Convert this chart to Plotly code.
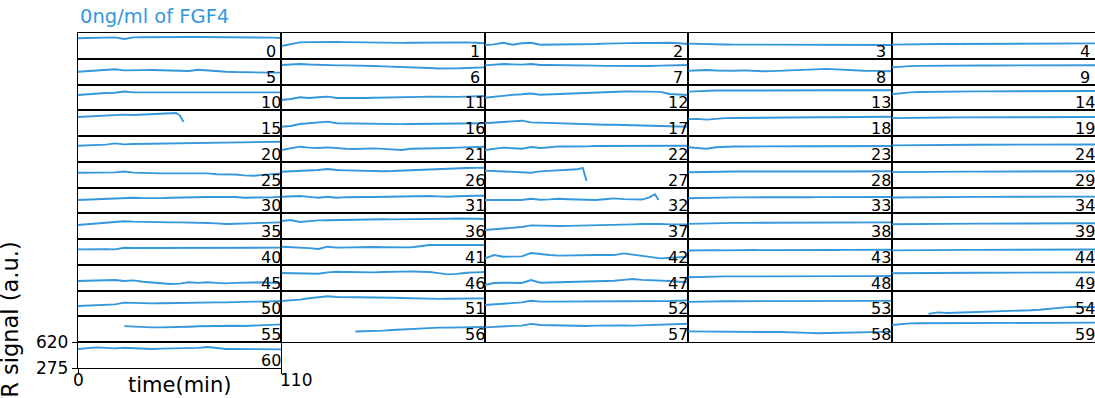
import plotly.graph_objects as go

# ---------------- data (KTR signal, a.u.) ----------------
time_min = [0, 5, 10, 15, 20, 25, 30, 35, 40, 45, 50, 55, 60, 65, 70, 75, 80, 85, 90, 95, 100, 105, 110]
time_15 = [0, 5, 10, 15, 20, 25, 30, 35, 40, 45, 50, 53, 55, 57]
time_27 = [0, 5, 10, 15, 20, 25, 30, 35, 40, 45, 50, 53, 55]
time_32 = [0, 5, 10, 15, 20, 25, 30, 35, 40, 45, 50, 55, 60, 65, 70, 75, 80, 85, 89, 92, 94]

fret_00 = [549, 553, 557, 560, 562, 540, 562, 564, 566, 568, 571, 569, 566, 566, 566, 566, 566, 564, 562, 562, 562, 558, 553]
fret_01 = [446, 473, 495, 498, 500, 508, 500, 498, 495, 492, 490, 488, 486, 488, 490, 492, 495, 492, 490, 492, 495, 490, 482]
fret_02 = [459, 468, 490, 463, 482, 490, 463, 463, 463, 468, 473, 473, 473, 478, 482, 486, 490, 488, 486, 488, 490, 482, 473]
fret_03 = [478, 473, 470, 468, 466, 465, 465, 464, 463, 462, 462, 461, 460, 460, 460, 461, 462, 460, 459, 458, 458, 459, 460]
fret_04 = [465, 468, 470, 472, 472, 473, 473, 474, 474, 475, 475, 476, 476, 477, 477, 478, 478, 479, 479, 480, 480, 481, 481]
fret_05 = [447, 454, 461, 466, 480, 465, 470, 468, 470, 468, 465, 461, 456, 472, 461, 452, 447, 442, 438, 436, 436, 434, 434]
fret_06 = [537, 543, 550, 543, 537, 535, 532, 532, 532, 528, 523, 518, 514, 514, 514, 505, 496, 490, 487, 492, 496, 500, 505]
fret_07 = [532, 541, 550, 545, 541, 550, 537, 537, 537, 535, 532, 530, 528, 525, 523, 523, 523, 523, 523, 528, 532, 535, 537]
fret_08 = [460, 465, 470, 462, 456, 460, 465, 458, 452, 455, 460, 462, 465, 470, 478, 485, 478, 470, 465, 460, 458, 455, 452]
fret_09 = [505, 515, 522, 525, 527, 528, 528, 529, 529, 530, 530, 530, 531, 531, 531, 532, 532, 532, 533, 533, 533, 534, 534]
fret_10 = [480, 491, 502, 507, 511, 526, 515, 515, 515, 517, 520, 520, 520, 520, 520, 520, 522, 524, 522, 520, 520, 520, 515]
fret_11 = [413, 426, 450, 439, 450, 458, 439, 437, 435, 440, 444, 448, 453, 453, 453, 455, 458, 455, 453, 455, 458, 462, 466]
fret_12 = [444, 458, 475, 482, 489, 500, 484, 489, 493, 498, 502, 510, 518, 525, 525, 527, 529, 527, 525, 522, 493, 484, 480]
fret_13 = [525, 532, 538, 540, 540, 541, 541, 540, 540, 541, 542, 542, 543, 543, 544, 544, 543, 543, 544, 545, 545, 544, 543]
fret_14 = [490, 505, 515, 520, 523, 525, 526, 527, 527, 528, 528, 529, 529, 530, 530, 531, 531, 532, 532, 533, 533, 533, 534]
fret_15 = [530, 537, 544, 548, 553, 562, 557, 563, 570, 575, 580, 584, 553, 468]
fret_16 = [400, 410, 437, 445, 459, 468, 446, 443, 441, 439, 437, 435, 432, 435, 437, 437, 437, 439, 441, 443, 446, 446, 446]
fret_17 = [446, 454, 463, 470, 481, 459, 454, 450, 446, 441, 437, 432, 427, 427, 427, 423, 419, 414, 410, 408, 406, 403, 400]
fret_18 = [500, 505, 495, 510, 515, 518, 520, 520, 520, 522, 522, 524, 525, 525, 527, 527, 529, 529, 530, 531, 532, 532, 533]
fret_19 = [515, 518, 520, 522, 523, 524, 524, 525, 525, 526, 526, 526, 527, 527, 528, 528, 528, 529, 529, 530, 530, 530, 531]
fret_20 = [491, 496, 500, 505, 522, 509, 514, 516, 518, 520, 523, 525, 527, 529, 532, 534, 536, 538, 538, 539, 541, 543, 545]
fret_21 = [434, 456, 478, 465, 461, 469, 456, 451, 447, 451, 456, 449, 442, 434, 451, 456, 461, 461, 461, 465, 469, 474, 478]
fret_22 = [434, 451, 465, 458, 451, 474, 461, 470, 482, 480, 478, 482, 487, 487, 487, 491, 496, 496, 496, 496, 496, 494, 491]
fret_23 = [470, 460, 450, 470, 478, 480, 481, 480, 480, 481, 482, 482, 483, 483, 484, 484, 485, 485, 486, 486, 487, 487, 488]
fret_24 = [495, 497, 499, 500, 501, 501, 502, 502, 503, 503, 504, 504, 505, 505, 505, 506, 506, 507, 507, 507, 508, 508, 508]
fret_25 = [475, 475, 475, 477, 479, 490, 475, 472, 466, 466, 466, 464, 462, 464, 466, 453, 453, 450, 439, 434, 445, 455, 466]
fret_26 = [488, 492, 497, 503, 510, 525, 510, 506, 502, 498, 493, 495, 497, 503, 510, 515, 520, 525, 529, 533, 537, 540, 542]
fret_27 = [502, 497, 493, 490, 488, 475, 493, 502, 510, 515, 520, 540, 365]
fret_28 = [480, 484, 487, 489, 490, 490, 491, 490, 489, 490, 491, 491, 492, 492, 493, 492, 491, 491, 492, 492, 493, 493, 494]
fret_29 = [482, 484, 486, 487, 487, 488, 488, 489, 489, 489, 490, 490, 490, 491, 491, 491, 492, 492, 492, 493, 493, 493, 494]
fret_30 = [454, 460, 467, 472, 476, 480, 485, 480, 476, 480, 485, 485, 485, 490, 494, 496, 498, 494, 485, 485, 485, 490, 498]
fret_31 = [498, 503, 507, 496, 485, 498, 485, 492, 498, 495, 494, 496, 498, 505, 511, 509, 507, 502, 498, 505, 511, 511, 511]
fret_32 = [454, 456, 458, 457, 454, 470, 458, 462, 470, 465, 458, 456, 454, 465, 476, 466, 458, 460, 490, 532, 455]
fret_33 = [478, 482, 486, 488, 489, 490, 490, 489, 490, 491, 491, 492, 492, 492, 493, 493, 492, 492, 493, 493, 494, 494, 494]
fret_34 = [488, 490, 492, 493, 494, 494, 495, 495, 495, 496, 496, 497, 497, 497, 498, 498, 498, 499, 499, 500, 500, 500, 500]
fret_35 = [464, 473, 482, 491, 500, 515, 509, 505, 500, 500, 500, 500, 500, 496, 491, 486, 478, 482, 486, 488, 491, 496, 500]
fret_36 = [518, 531, 505, 518, 527, 529, 531, 538, 545, 545, 545, 542, 540, 540, 540, 540, 540, 545, 549, 551, 553, 549, 545]
fret_37 = [397, 408, 419, 428, 438, 460, 455, 453, 451, 453, 455, 455, 455, 460, 464, 468, 473, 478, 482, 478, 473, 473, 473]
fret_38 = [480, 484, 488, 490, 492, 493, 493, 493, 494, 494, 494, 495, 495, 495, 496, 496, 496, 497, 497, 498, 498, 498, 499]
fret_39 = [475, 477, 479, 480, 481, 481, 482, 482, 482, 483, 483, 484, 484, 484, 485, 485, 485, 486, 486, 486, 487, 487, 487]
fret_40 = [483, 486, 488, 486, 483, 505, 501, 501, 501, 503, 506, 506, 506, 506, 501, 503, 506, 506, 506, 504, 501, 504, 506]
fret_41 = [519, 515, 506, 500, 488, 519, 506, 510, 514, 514, 514, 512, 510, 510, 510, 525, 541, 541, 541, 539, 537, 539, 541]
fret_42 = [363, 407, 385, 387, 389, 434, 416, 407, 399, 403, 407, 407, 407, 407, 407, 430, 416, 398, 380, 363, 372, 378, 385]
fret_43 = [468, 472, 475, 473, 470, 474, 476, 475, 473, 472, 474, 476, 477, 476, 474, 473, 475, 477, 478, 477, 476, 477, 478]
fret_44 = [470, 472, 474, 475, 475, 476, 476, 477, 477, 477, 478, 478, 478, 479, 479, 479, 480, 480, 480, 481, 481, 481, 482]
fret_45 = [404, 408, 404, 411, 418, 404, 413, 395, 387, 378, 364, 370, 387, 380, 387, 380, 373, 380, 387, 385, 387, 380, 373]
fret_46 = [512, 510, 507, 504, 502, 520, 529, 525, 520, 520, 520, 525, 529, 532, 534, 529, 525, 510, 494, 500, 516, 520, 525]
fret_47 = [351, 378, 382, 380, 378, 418, 382, 385, 387, 391, 395, 400, 404, 406, 408, 420, 431, 420, 418, 410, 404, 395, 387]
fret_48 = [455, 460, 463, 465, 466, 466, 467, 467, 466, 466, 467, 468, 468, 468, 469, 469, 468, 468, 469, 470, 470, 470, 471]
fret_49 = [508, 510, 512, 513, 514, 514, 515, 515, 515, 516, 516, 516, 517, 517, 517, 518, 518, 518, 519, 519, 519, 520, 520]
fret_50 = [415, 422, 428, 432, 437, 460, 455, 452, 450, 452, 455, 459, 463, 463, 463, 463, 463, 468, 473, 473, 473, 478, 482]
fret_51 = [482, 490, 500, 518, 531, 545, 535, 535, 535, 535, 535, 531, 526, 522, 517, 512, 508, 510, 513, 515, 517, 517, 517]
fret_52 = [428, 437, 446, 455, 463, 485, 473, 473, 473, 473, 473, 473, 473, 473, 473, 478, 482, 478, 473, 478, 482, 486, 490]
fret_53 = [470, 474, 476, 478, 478, 479, 479, 478, 478, 479, 480, 480, 481, 481, 481, 481, 480, 480, 481, 482, 482, 482, 483]
fret_54 = [None, None, None, None, 310, 330, 322, 325, 328, 330, 334, 338, 340, 345, 350, 358, 365, 380, 392, 400, 405, 402, 400]
fret_55 = [None, None, None, None, None, 490, 483, 478, 474, 474, 474, 478, 483, 488, 492, 495, 497, 495, 492, 497, 505, 510, 514]
fret_56 = [None, None, None, None, None, None, None, None, 418, 420, 425, 430, 438, 445, 451, 460, 470, 470, 470, 472, 470, 474, 478]
fret_57 = [474, 483, 492, 494, 497, 520, 505, 501, 497, 492, 487, 492, 497, 501, 505, 501, 497, 501, 505, 510, 514, 518, 523]
fret_58 = [420, 418, 416, 415, 414, 414, 413, 413, 412, 412, 411, 410, 408, 400, 395, 398, 405, 410, 412, 413, 413, 414, 415]
fret_59 = [505, 520, 528, 529, 529, 529, 528, 529, 530, 530, 531, 531, 531, 532, 532, 533, 533, 534, 534, 535, 536, 536, 537]
fret_60 = [529, 540, 551, 545, 538, 546, 540, 535, 529, 535, 538, 538, 538, 544, 556, 544, 529, 529, 529, 529, 529, 527, 525]

y_range = [275, 620]
x_range = [0, 110]
y_tick_vals = [275, 620]
x_tick_vals = [0, 110]
title_text = "0ng/ml of FGF4"
x_label = "time(min)"
y_label = "KTR signal (a.u.)"

# ---------------- figure ----------------
series = [fret_00, fret_01, fret_02, fret_03, fret_04, fret_05, fret_06, fret_07, fret_08, fret_09,
          fret_10, fret_11, fret_12, fret_13, fret_14, fret_15, fret_16, fret_17, fret_18, fret_19,
          fret_20, fret_21, fret_22, fret_23, fret_24, fret_25, fret_26, fret_27, fret_28, fret_29,
          fret_30, fret_31, fret_32, fret_33, fret_34, fret_35, fret_36, fret_37, fret_38, fret_39,
          fret_40, fret_41, fret_42, fret_43, fret_44, fret_45, fret_46, fret_47, fret_48, fret_49,
          fret_50, fret_51, fret_52, fret_53, fret_54, fret_55, fret_56, fret_57, fret_58, fret_59,
          fret_60]
special_times = {15: time_15, 27: time_27, 32: time_32}

BLUE = "#3498db"
FONT = "DejaVu Sans"
N_ROWS, N_COLS = 13, 5

fig = go.Figure()
layout = {}
annotations = []
for i, vals in enumerate(series):
    r, c = divmod(i, N_COLS)
    ax = "" if i == 0 else str(i + 1)
    t = special_times.get(i, time_min)
    fig.add_trace(go.Scatter(
        x=t, y=vals, mode="lines", line=dict(color=BLUE, width=1.9),
        xaxis="x" + ax, yaxis="y" + ax, showlegend=False, hoverinfo="skip",
        connectgaps=False))
    last = (i == len(series) - 1)
    layout["xaxis" + ax] = dict(
        domain=[c / N_COLS, (c + 1) / N_COLS], range=x_range, anchor="y" + ax,
        showline=True, mirror=True, linecolor="black", linewidth=1.3,
        showgrid=False, zeroline=False, showticklabels=False,
        ticks="outside" if last else "", tickvals=x_tick_vals if last else None,
        ticklen=5, tickcolor="black", tickwidth=1.3)
    layout["yaxis" + ax] = dict(
        domain=[1 - (r + 1) / N_ROWS, 1 - r / N_ROWS], range=y_range, anchor="x" + ax,
        showline=True, mirror=(c < N_COLS - 1), linecolor="black", linewidth=1.3,
        showgrid=False, zeroline=False, showticklabels=last,
        ticks="outside" if last else "", tickvals=y_tick_vals if last else None,
        ticklen=5, tickcolor="black", tickwidth=1.3,
        tickfont=dict(family=FONT, size=17, color="black"))
    annotations.append(dict(
        text=str(i), xref="x" + ax + " domain", yref="y" + ax + " domain",
        x=0.95, y=0, xanchor="center", yanchor="bottom", yshift=-4,
        showarrow=False, font=dict(family=FONT, size=16, color="black")))

last_ax = str(len(series))
# x tick labels for the bottom-left panel
annotations.append(dict(text=str(x_tick_vals[0]), xref="x" + last_ax, yref="y" + last_ax + " domain",
                        x=x_tick_vals[0], y=0, xanchor="center", yanchor="top", yshift=0,
                        showarrow=False, font=dict(family=FONT, size=17, color="black")))
annotations.append(dict(text=str(x_tick_vals[1]), xref="x" + last_ax, yref="y" + last_ax + " domain",
                        x=x_tick_vals[1], y=0, xanchor="left", yanchor="top", yshift=0, xshift=-3,
                        showarrow=False, font=dict(family=FONT, size=17, color="black")))
# axis titles
annotations.append(dict(text=x_label, xref="x" + last_ax + " domain", yref="y" + last_ax + " domain",
                        x=0.5, y=0, xanchor="center", yanchor="middle", yshift=-17,
                        showarrow=False, font=dict(family=FONT, size=21, color="black")))
annotations.append(dict(text=y_label, xref="paper", yref="paper", x=-0.0659, y=0.106,
                        xanchor="center", yanchor="middle", textangle=-90,
                        showarrow=False, font=dict(family=FONT, size=22.5, color="black")))
# title
annotations.append(dict(text=title_text, xref="paper", yref="paper", x=0, y=1,
                        xanchor="left", yanchor="bottom", yshift=3,
                        showarrow=False, font=dict(family=FONT, size=19.5, color=BLUE)))

fig.update_layout(**layout)
fig.update_layout(
    width=1095, height=398,
    margin=dict(l=78, r=0, t=33, b=30, pad=0),
    paper_bgcolor="white", plot_bgcolor="white",
    annotations=annotations,
)
fig.write_html("out.html")
